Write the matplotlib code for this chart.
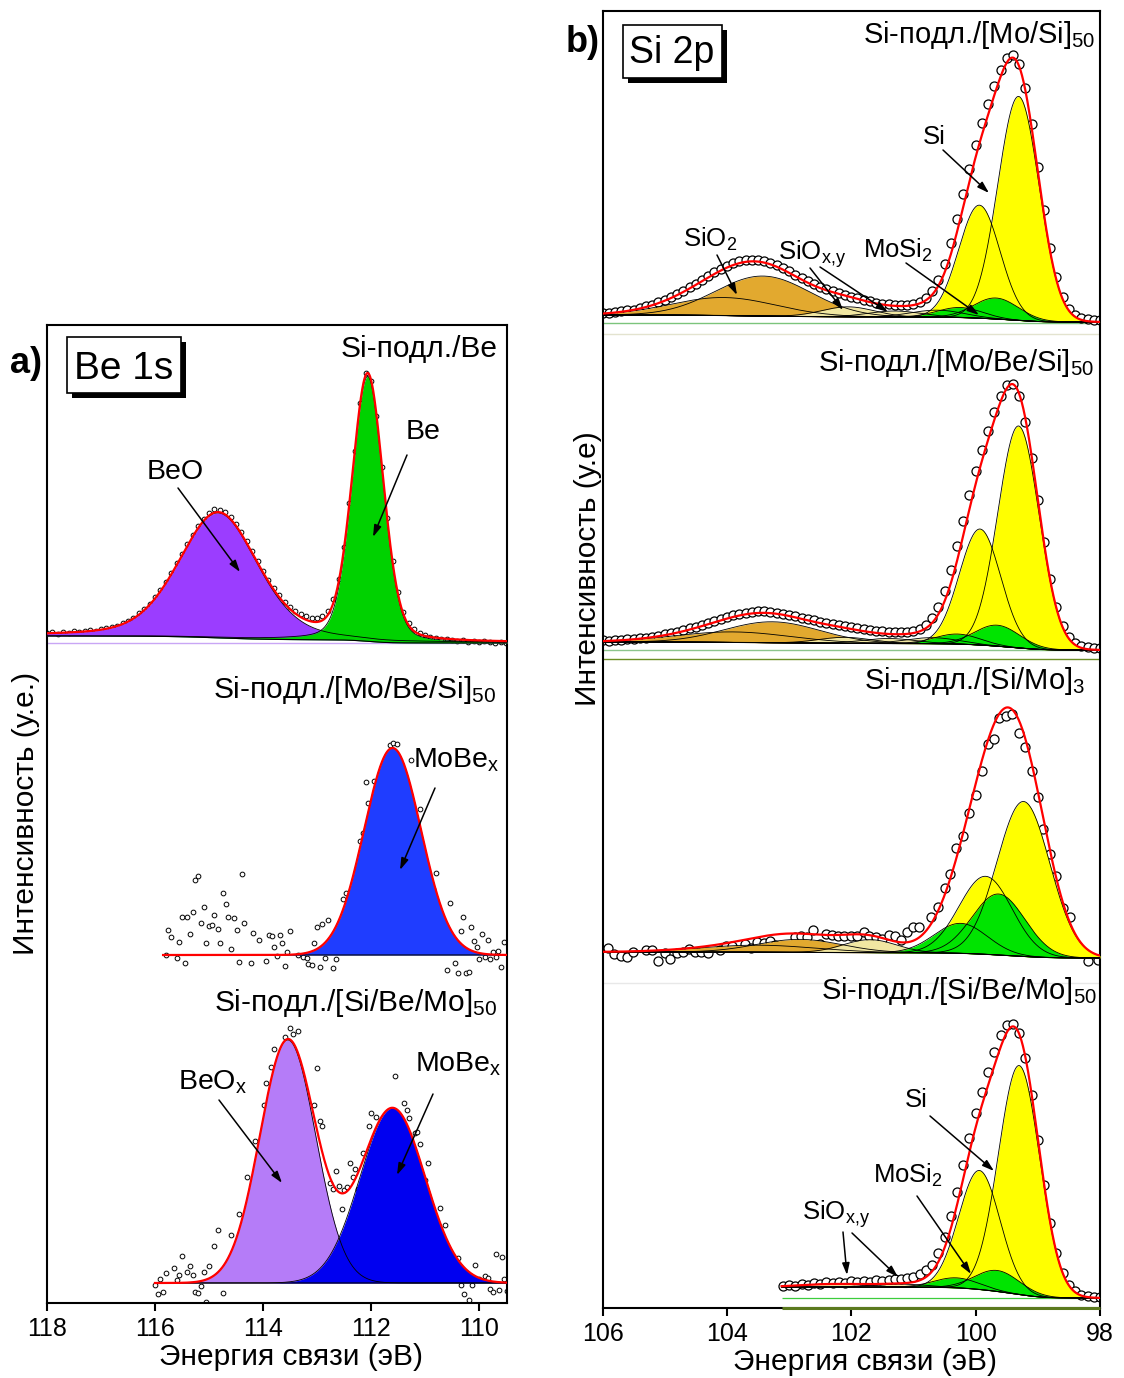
import matplotlib.patches as patches
import matplotlib.pyplot as plt
import numpy as np

plt.rcParams['font.family'] = ['Liberation Sans', 'DejaVu Sans']
plt.rcParams['mathtext.default'] = 'regular'

# ---------------- Be 1s (binding energy in eV, intensity in a.u.) ----------------
# Si-substrate / Be: measured points on a 0.1 eV grid, 118.0 -> 109.5 eV
be_film_e = np.round(np.arange(118.0, 109.45, -0.1), 1)
be_film_i = [10, 11, 9, 11, 10, 12, 11, 12, 13, 12, 14, 15,
             16, 17, 20, 22, 25, 30, 34, 39, 46, 53, 61, 70,
             80, 89, 99, 108, 117, 124, 130, 134, 133, 131, 126, 119,
             111, 102, 92, 82, 72, 63, 55, 48, 41, 36, 32, 29,
             27, 25, 25, 27, 32, 44, 64, 96, 140, 192, 240, 270,
             262, 227, 176, 125, 82, 51, 31, 20, 14, 10, 8, 6,
             5, 4, 4, 3, 2, 3, 1, 2, 1, 2, 1, 0,
             1, 0]
# fitted components: (centre, FWHM, height, lorentz fraction)
be_film_peaks = [(114.83, 1.72, 125, 0.3),   # BeO
                 (112.06, 0.68, 265, 0.2)]   # Be
be_film_bg = (7, 0)

# Si-substrate / [Mo/Be/Si]50
mbs_e = [115.80, 115.75, 115.70, 115.60, 115.55, 115.50, 115.45, 115.40, 115.35, 115.30,
         115.25, 115.20, 115.15, 115.10, 115.05, 115.00, 114.95, 114.90, 114.84, 114.79,
         114.74, 114.69, 114.64, 114.59, 114.54, 114.49, 114.44, 114.39, 114.35, 114.23,
         114.18, 114.08, 113.94, 113.89, 113.84, 113.79, 113.74, 113.69, 113.64, 113.60,
         113.55, 113.50, 113.35, 113.25, 113.19, 113.16, 113.10, 113.05, 113.00, 112.95,
         112.90, 112.85, 112.80, 112.70, 112.65, 112.51, 112.46, 112.26, 112.20, 112.15,
         112.10, 112.05, 111.95, 111.65, 111.59, 111.51, 111.25, 111.10, 110.85, 110.80,
         110.59, 110.54, 110.44, 110.39, 110.34, 110.29, 110.24, 110.19, 110.14, 110.09,
         110.04, 109.99, 109.94, 109.89, 109.84, 109.79, 109.74, 109.69, 109.64, 109.59,
         109.54]
mbs_i = [0, 25, 18, -3, 13, 38, -8, 38, 21, 43,
         75, 79, 32, 48, 12, 29, 30, 40, 26, 12,
         62, 51, 38, 6, 37, 25, -7, 81, 32, -8,
         22, 15, -6, 20, 19, 8, -1, 20, 12, -11,
         3, 24, 0, -2, -3, -9, -10, 12, 28, -12,
         31, -3, 35, -13, -4, 56, 62, 86, 114, 122,
         173, 152, 174, 210, 212, 211, 195, 146, 66, 82,
         -15, 52, -8, -18, 24, 38, -18, -17, 28, 14,
         8, -4, 21, -2, 15, -4, 3, -2, 4, -12,
         13]
mbs_be_peaks = [(111.60, 1.24, 207, 0.0)]    # MoBe_x
mbs_be_bg = (0, 0)

# Si-substrate / [Si/Be/Mo]50
sbm_e = [116.00, 115.95, 115.90, 115.85, 115.80, 115.65, 115.60, 115.55, 115.50, 115.40,
         115.35, 115.30, 115.25, 115.20, 115.15, 115.10, 115.05, 115.00, 114.90, 114.84,
         114.74, 114.59, 114.44, 114.29, 114.14, 113.99, 113.95, 113.85, 113.80, 113.60,
         113.50, 113.44, 113.35, 113.05, 113.00, 112.95, 112.90, 112.75, 112.70, 112.64,
         112.59, 112.54, 112.49, 112.44, 112.39, 112.34, 112.29, 112.24, 112.14, 112.04,
         111.99, 111.90, 111.55, 111.39, 111.34, 111.29, 111.19, 111.14, 111.09, 110.99,
         110.94, 110.73, 110.63, 110.38, 110.33, 110.28, 110.18, 110.13, 110.08, 109.99,
         109.89, 109.84, 109.79, 109.74, 109.68, 109.63, 109.58, 109.53, 109.48]
sbm_i = [-2, -11, 4, -9, 10, 15, 3, 8, 27, 11,
         17, 8, -9, -10, -3, 11, -19, 17, 37, 53,
         -10, 48, 69, 106, 142, 178, 200, 216, 234, 246,
         255, 249, 252, 178, 215, 162, 157, 100, 94, 112,
         97, 74, 93, 96, 120, 106, 114, 94, 130, 157,
         170, 166, 207, 180, 173, 165, 150, 151, 139, 103,
         120, 75, 58, 25, -2, -11, -17, -2, 18, 4,
         7, 5, -6, -9, 29, -7, 26, 4, -8]
sbm_be_peaks = [(113.54, 1.22, 243, 0.0),    # BeO_x
                (111.60, 1.42, 175, 0.0)]    # MoBe_x
sbm_be_bg = (0, 0)

# ---------------- Si 2p ----------------
# component order: SiO2 (2), SiO_x,y (3), Si 2p1/2, Si 2p3/2, MoSi2 (2)
mosi_e = np.round(np.arange(106.0, 97.95, -0.1), 1)
mosi_i = [9, 9, 10, 11, 12, 12, 14, 16, 17, 20, 22, 25,
          28, 31, 35, 38, 42, 46, 50, 53, 56, 59, 61, 62,
          62, 62, 61, 59, 57, 54, 51, 47, 44, 41, 38, 35,
          33, 31, 29, 27, 25, 24, 22, 21, 19, 18, 18, 17,
          17, 17, 18, 20, 24, 31, 42, 58, 79, 103, 128, 153,
          177, 199, 218, 236, 252, 264, 267, 258, 234, 198, 155, 112,
          74, 45, 25, 13, 7, 4, 3, 2, 2]
mosi_peaks = [(104.05, 2.0, 18, 0), (103.42, 1.8, 40, 0),
              (102.05, 1.0, 10, 0), (101.30, 1.0, 6, 0), (100.62, 1.0, 7, 0),
              (99.94, 0.78, 113, 0), (99.31, 0.78, 224, 0),
              (100.25, 0.85, 10, 0), (99.67, 0.85, 21, 0)]
mosi_bg = (7, 0)

mbsi_e = np.round(np.arange(106.0, 97.95, -0.1), 1)
mbsi_i = [10, 9, 10, 10, 11, 11, 12, 12, 13, 14, 16, 17,
          18, 20, 22, 23, 25, 27, 29, 31, 33, 35, 36, 37,
          38, 39, 39, 38, 37, 36, 35, 34, 32, 31, 30, 28,
          27, 26, 25, 24, 23, 22, 21, 20, 19, 19, 18, 18,
          18, 18, 19, 21, 25, 32, 43, 59, 80, 104, 129, 155,
          179, 200, 219, 238, 254, 265, 266, 254, 228, 192, 150, 108,
          71, 43, 24, 13, 7, 4, 3, 2, 2]
mbsi_peaks = [(103.90, 2.2, 10.5, 0), (103.27, 1.8, 21, 0),
              (102.10, 1.0, 6, 0), (101.40, 1.0, 5, 0), (100.70, 1.0, 6, 0),
              (99.93, 0.78, 116, 0), (99.31, 0.78, 222, 0),
              (100.29, 0.85, 10, 0), (99.65, 0.85, 21, 0)]
mbsi_bg = (8, 0)

simo_e = [105.91, 105.81, 105.70, 105.60, 105.51, 105.30, 105.21, 105.11, 105.00, 104.91,
          104.80, 104.71, 104.61, 104.51, 104.41, 104.31, 104.11, 104.01, 103.91, 103.71,
          103.61, 103.51, 103.41, 103.31, 103.22, 103.11, 103.00, 102.91, 102.81, 102.71,
          102.61, 102.51, 102.41, 102.31, 102.22, 102.11, 102.01, 101.91, 101.80, 101.71,
          101.61, 101.50, 101.40, 101.30, 101.20, 101.10, 101.00, 100.91, 100.72, 100.60,
          100.50, 100.41, 100.31, 100.21, 100.11, 100.00, 99.90, 99.80, 99.71, 99.62,
          99.51, 99.41, 99.31, 99.20, 99.10, 99.00, 98.91, 98.80, 98.70, 98.59,
          98.49, 98.20, 98.03]
simo_i = [10, 4, 2, 1, 6, 8, 8, -3, 5, -1,
          5, 6, 9, 6, 6, 5, 8, 12, 12, 14,
          10, 16, 15, 17, 13, 12, 12, 21, 22, 21,
          28, 14, 24, 23, 22, 22, 22, 22, 26, 22,
          21, 19, 23, 22, 18, 26, 31, 31, 41, 51,
          70, 84, 110, 122, 145, 163, 187, 214, 219, 240,
          242, 244, 225, 211, 187, 161, 129, 104, 82, 50,
          41, -3, -2]
simo_peaks = [(103.50, 2.2, 7, 0), (102.83, 1.6, 13, 0),
              (101.70, 1.0, 13, 0),
              (99.84, 1.0, 78, 0), (99.23, 1.0, 155, 0),
              (100.24, 1.0, 30, 0), (99.63, 1.0, 61, 0)]
simo_bg = (6, 0)

sbmo_e = np.round(np.arange(103.1, 97.95, -0.1), 1)
sbmo_i = [12, 13, 12, 14, 13, 15, 14, 16, 15, 16, 15, 17,
          16, 17, 16, 18, 17, 18, 19, 19, 20, 21, 24, 28,
          33, 45, 61, 82, 106, 133, 160, 185, 206, 226, 246, 263,
          273, 274, 265, 240, 203, 158, 113, 75, 45, 25, 13, 7,
          3, 2, 1, 1]
sbmo_peaks = [(102.30, 1.2, 3, 0), (101.20, 1.0, 3, 0),
              (99.94, 0.78, 119, 0), (99.30, 0.78, 229, 0),
              (100.31, 0.85, 10, 0), (99.65, 0.85, 21, 0)]
sbmo_bg = (11, 0)

# fill colours for the components
BEO, BE, MOBE, BEOX, MOBE2 = '#9b3dff', '#00d200', '#1f3dff', '#b57cf8', '#0000f0'
BROWN, BEIGE, YELLOW, GREEN = '#e2a92f', '#f1e7a2', '#ffff00', '#00e400'
si_colors_full = [BROWN, BROWN, BEIGE, BEIGE, BEIGE, YELLOW, YELLOW, GREEN, GREEN]
si_colors_simo = [BROWN, BROWN, BEIGE, YELLOW, YELLOW, GREEN, GREEN]
si_colors_sbmo = [BEIGE, BEIGE, YELLOW, YELLOW, GREEN, GREEN]


def pseudo_voigt(e, c, fwhm, h, eta):
    x = (e - c) / fwhm
    return h * ((1 - eta) * np.exp(-4 * np.log(2) * x ** 2) + eta / (1 + 4 * x ** 2))


def shirley(e, signal, left, right):
    # e runs from high to low binding energy
    cum = np.cumsum(signal[::-1])[::-1]
    return right + (left - right) * cum / cum[0]


def draw_spectrum(ax, e_hi, e_lo, offset, peaks, colors, bg_lr, pe, pi, ms, mew):
    e = np.linspace(e_hi, e_lo, 1500)
    comps = [pseudo_voigt(e, *p) for p in peaks]
    total = np.sum(comps, axis=0)
    bg = offset + shirley(e, total, *bg_lr)
    ax.plot(pe, offset + np.asarray(pi), 'o', mfc='white', mec='black',
            ms=ms, mew=mew, zorder=2)
    for comp, col in zip(comps, colors):
        ax.fill_between(e, bg, bg + comp, color=col, lw=0, zorder=3)
    for comp in comps:
        ax.plot(e, bg + comp, color='black', lw=0.6, zorder=4)
    ax.plot(e, bg, color='black', lw=0.8, zorder=4)
    ax.plot(e, bg + total, color='red', lw=1.6, zorder=5)


W, H = 1124, 1378
fig = plt.figure(figsize=(W / 100, H / 100), dpi=100)
ax_a = fig.add_axes([47 / W, 1 - 1303 / H, 460 / W, 978 / H])
ax_b = fig.add_axes([602.5 / W, 1 - 1308 / H, 497.5 / W, 1297 / H])

# Be 1s panel
ax_a.axhline(660, color='#c9a6f5', lw=1, zorder=1)
draw_spectrum(ax_a, 118.0, 109.48, 660, be_film_peaks, [BEO, BE], be_film_bg,
              be_film_e, be_film_i, 3.4, 0.7)
draw_spectrum(ax_a, 115.85, 109.48, 348, mbs_be_peaks, [MOBE], mbs_be_bg,
              mbs_e, mbs_i, 3.4, 0.7)
draw_spectrum(ax_a, 116.0, 109.48, 20, sbm_be_peaks, [BEOX, MOBE2], sbm_be_bg,
              sbm_e, sbm_i, 3.4, 0.7)
ax_a.set_xlim(118, 109.48)
ax_a.set_ylim(0, 978)
ax_a.set_xticks([118, 116, 114, 112, 110])

# Si 2p panel
for yv, col in [(985, '#7cc47c'), (974, '#e3e3cf'), (658, '#8cc48c'),
                (649, '#6b8e23'), (325, '#e8e8e8')]:
    ax_b.axhline(yv, color=col, lw=1, zorder=1)
ax_b.hlines(10, 103.12, 98, color='#3ccc3c', lw=0.9, zorder=1)
ax_b.hlines(0.5, 103.12, 98, color='#5b7a1e', lw=2.2, zorder=6, clip_on=False)
draw_spectrum(ax_b, 106.0, 98.0, 986, mosi_peaks, si_colors_full, mosi_bg,
              mosi_e, mosi_i, 6.5, 0.9)
draw_spectrum(ax_b, 106.0, 98.0, 658, mbsi_peaks, si_colors_full, mbsi_bg,
              mbsi_e, mbsi_i, 6.5, 0.9)
draw_spectrum(ax_b, 106.0, 98.0, 350, simo_peaks, si_colors_simo, simo_bg,
              simo_e, simo_i, 6.5, 0.9)
draw_spectrum(ax_b, 103.12, 98.0, 10, sbmo_peaks, si_colors_sbmo, sbmo_bg,
              sbmo_e, sbmo_i, 6.5, 0.9)
ax_b.set_xlim(106, 98)
ax_b.set_ylim(0, 1297)
ax_b.set_xticks([106, 104, 102, 100, 98])

for ax in (ax_a, ax_b):
    ax.set_yticks([])
    ax.tick_params(axis='x', direction='out', length=6, width=1.5,
                   labelsize=18, pad=4)
    for sp in ax.spines.values():
        sp.set_linewidth(1.5)


def label(x, y, s, size, ha='left', **kw):
    fig.text(x / W, 1 - y / H, s, fontsize=size, ha=ha, va='baseline', zorder=12, **kw)


def arrow(x0, y0, x1, y1):
    fig.add_artist(patches.FancyArrowPatch(
        (x0 / W, 1 - y0 / H), (x1 / W, 1 - y1 / H), transform=fig.transFigure,
        arrowstyle='-|>,head_length=0.7,head_width=0.22', mutation_scale=10,
        color='black', lw=1.1, shrinkA=0, shrinkB=0, zorder=12))


def boxed(x0, y0, x1, y1, s, size, xc, yb):
    shadow = patches.Rectangle(((x0 + 5) / W, 1 - (y1 + 5) / H), (x1 - x0) / W, (y1 - y0) / H,
                               transform=fig.transFigure, facecolor='black', lw=0, zorder=10)
    box = patches.Rectangle((x0 / W, 1 - y1 / H), (x1 - x0) / W, (y1 - y0) / H,
                            transform=fig.transFigure, facecolor='white',
                            edgecolor='black', lw=1.2, zorder=11)
    fig.add_artist(shadow)
    fig.add_artist(box)
    fig.text(xc / W, 1 - yb / H, s, fontsize=size, ha='center', va='baseline', zorder=12)


# panel letters and core-level boxes
label(10, 373, 'a)', 26, fontweight='bold')
label(566, 52, 'b)', 26, fontweight='bold')
boxed(67, 337, 181, 393, 'Be 1s', 28, 124, 379)
boxed(623, 25, 722, 78, 'Si 2p', 27, 672, 63)

# Be 1s sample names and component labels
label(498, 357, 'Si-подл./Be', 21.5, ha='right')
label(496, 698, 'Si-подл./[Mo/Be/Si]$_{50}$', 21.5, ha='right')
label(497, 1011, 'Si-подл./[Si/Be/Mo]$_{50}$', 21.5, ha='right')
label(147, 479, 'BeO', 20.5)
label(406, 439, 'Be', 20.5)
label(413, 768, 'MoBe$_x$', 20.5)
label(178, 1089, 'BeO$_x$', 20.5)
label(415, 1072, 'MoBe$_x$', 20.5)
arrow(178, 488, 240, 572)
arrow(407, 455, 373, 537)
arrow(435, 788, 400, 870)
arrow(219, 1100, 282, 1183)
arrow(433, 1094, 397, 1175)

# Si 2p sample names and component labels
label(1095, 43, 'Si-подл./[Mo/Si]$_{50}$', 21, ha='right')
label(1094, 371, 'Si-подл./[Mo/Be/Si]$_{50}$', 21, ha='right')
label(1085, 689, 'Si-подл./[Si/Mo]$_{3}$', 21, ha='right')
label(1097, 999, 'Si-подл./[Si/Be/Mo]$_{50}$', 21, ha='right')
label(923, 144, 'Si', 18.5)
label(683, 247, 'SiO$_2$', 18.5)
label(778, 260, r'SiO$_{x,\!y}$', 18.5)
label(863, 258, 'MoSi$_2$', 18.5)
arrow(943, 150, 989, 193)
arrow(717, 255, 737, 295)
arrow(810, 268, 843, 310)
arrow(820, 267, 888, 312)
arrow(906, 263, 979, 315)
label(905, 1107, 'Si', 18.5)
label(873, 1183, 'MoSi$_2$', 18.5)
label(802, 1220, r'SiO$_{x,\!y}$', 18.5)
arrow(930, 1116, 994, 1171)
arrow(917, 1196, 971, 1274)
arrow(843, 1232, 847, 1275)
arrow(852, 1233, 898, 1277)

# axis titles
fig.text(291 / W, 1 - 1365 / H, 'Энергия связи (эВ)', fontsize=21.5, ha='center', va='baseline')
fig.text(865 / W, 1 - 1370 / H, 'Энергия связи (эВ)', fontsize=21.5, ha='center', va='baseline')
fig.text(26 / W, 1 - 813 / H, 'Интенсивность (у.е.)', fontsize=21.5, rotation=90,
         ha='center', va='center')
fig.text(588 / W, 1 - 569 / H, 'Интенсивность (у.е)', fontsize=21.5, rotation=90,
         ha='center', va='center')

fig.savefig('out.png', dpi=100)
